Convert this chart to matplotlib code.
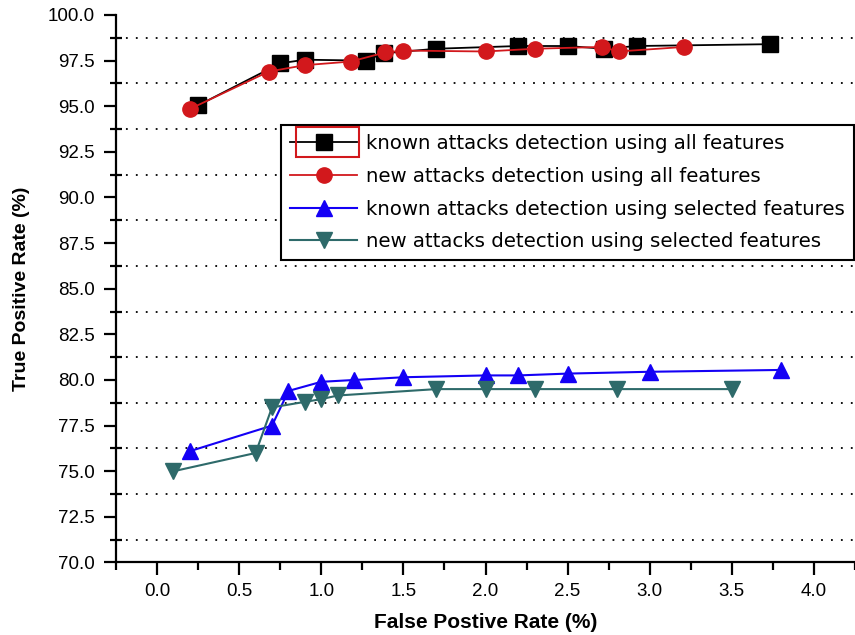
import numpy as np
import matplotlib
matplotlib.use('Agg')
import matplotlib.pyplot as plt
from matplotlib.patches import Rectangle
from matplotlib.ticker import MultipleLocator, FormatStrFormatter

# known attacks, all features
fpr_known_all = [0.25, 0.75, 0.9, 1.27, 1.38, 1.7, 2.2, 2.5, 2.72, 2.92, 3.73]
tpr_known_all = [95.05, 97.35, 97.55, 97.5, 97.9, 98.15, 98.3, 98.3, 98.15, 98.3, 98.4]
# new attacks, all features
fpr_new_all = [0.2, 0.68, 0.9, 1.18, 1.39, 1.5, 2.0, 2.3, 2.71, 2.81, 3.21]
tpr_new_all = [94.85, 96.9, 97.25, 97.45, 97.95, 98.05, 98.0, 98.15, 98.25, 98.0, 98.25]
# known attacks, selected features
fpr_known_sel = [0.2, 0.7, 0.8, 1.0, 1.2, 1.5, 2.0, 2.2, 2.5, 3.0, 3.8]
tpr_known_sel = [76.1, 77.5, 79.4, 79.9, 80.0, 80.15, 80.25, 80.25, 80.35, 80.45, 80.55]
# new attacks, selected features
fpr_new_sel = [0.1, 0.6, 0.7, 0.9, 1.0, 1.1, 1.7, 2.0, 2.3, 2.8, 3.5]
tpr_new_sel = [75.0, 76.0, 78.5, 78.8, 78.95, 79.15, 79.5, 79.5, 79.5, 79.5, 79.5]

labels = ['known attacks detection using all features',
          'new attacks detection using all features',
          'known attacks detection using selected features',
          'new attacks detection using selected features']

fig = plt.figure(figsize=(8.55, 6.35), dpi=100)
ax = fig.add_axes([0.1357, 0.1142, 0.8643, 0.8622])

ax.plot(fpr_known_all, tpr_known_all, '-s', color='black', lw=1.3, ms=11, label=labels[0])
ax.plot(fpr_new_all, tpr_new_all, '-o', color='#d2181c', lw=1.3, ms=11, label=labels[1])
ax.plot(fpr_known_sel, tpr_known_sel, '-^', color='#1400f5', lw=1.5, ms=12, label=labels[2])
ax.plot(fpr_new_sel, tpr_new_sel, '-v', color='#2e6a6a', lw=1.5, ms=12, label=labels[3])

ax.set_xlim(-0.25, 4.25)
ax.set_ylim(70, 100)
ax.xaxis.set_major_locator(MultipleLocator(0.5))
ax.xaxis.set_minor_locator(MultipleLocator(0.25))
ax.yaxis.set_major_locator(MultipleLocator(2.5))
ax.yaxis.set_minor_locator(MultipleLocator(1.25))
ax.xaxis.set_major_formatter(FormatStrFormatter('%.1f'))
ax.yaxis.set_major_formatter(FormatStrFormatter('%.1f'))

# dotted grid on the minor y positions only
for yv in np.arange(71.25, 100, 2.5):
    ax.axhline(yv, color='black', lw=1.3, ls=(0, (1, 4.5)), zorder=0)

for s in ['top', 'right']:
    ax.spines[s].set_visible(False)
for s in ['left', 'bottom']:
    ax.spines[s].set_linewidth(1.6)

ax.tick_params(axis='both', which='major', direction='out', length=9, width=1.6,
               labelsize=13.5, pad=6)
ax.tick_params(axis='x', which='minor', direction='out', length=6, width=1.6)
ax.tick_params(axis='y', which='minor', direction='inout', length=9, width=1.6)
for t in ax.get_xticklabels() + ax.get_yticklabels():
    t.set_family('Liberation Sans')

ax.set_xlabel('False Postive Rate (%)', family='Liberation Sans', fontweight='bold',
              fontsize=15, labelpad=9)
ax.set_ylabel('True Positive Rate (%)', family='Liberation Sans', fontweight='bold',
              fontsize=14, labelpad=13)

leg = ax.legend(loc='upper left', bbox_to_anchor=(0.2236, 0.799), borderaxespad=0,
                fancybox=False, edgecolor='black', framealpha=1,
                handlelength=3.4, handletextpad=0.45, labelspacing=0.7, borderpad=0.45,
                prop={'family': 'DejaVu Sans', 'size': 14.2})
leg.get_frame().set_linewidth(1.5)

# red selection box round the first legend key
fig.canvas.draw()
key = leg.legend_handles[0]
pts = key.get_transform().transform(np.column_stack([key.get_xdata(), key.get_ydata()]))
px0, px1 = pts[:, 0].min() + 6, pts[:, 0].max() + 2
pyc = pts[:, 1].mean()
inv = fig.transFigure.inverted()
(x0, y0), (x1, y1) = inv.transform([[px0, pyc - 15], [px1, pyc + 15]])
fig.add_artist(Rectangle((x0, y0), x1 - x0, y1 - y0, transform=fig.transFigure,
                         fill=False, edgecolor='#d2181c', lw=1.5, zorder=10))

fig.savefig('out.png', dpi=100)
